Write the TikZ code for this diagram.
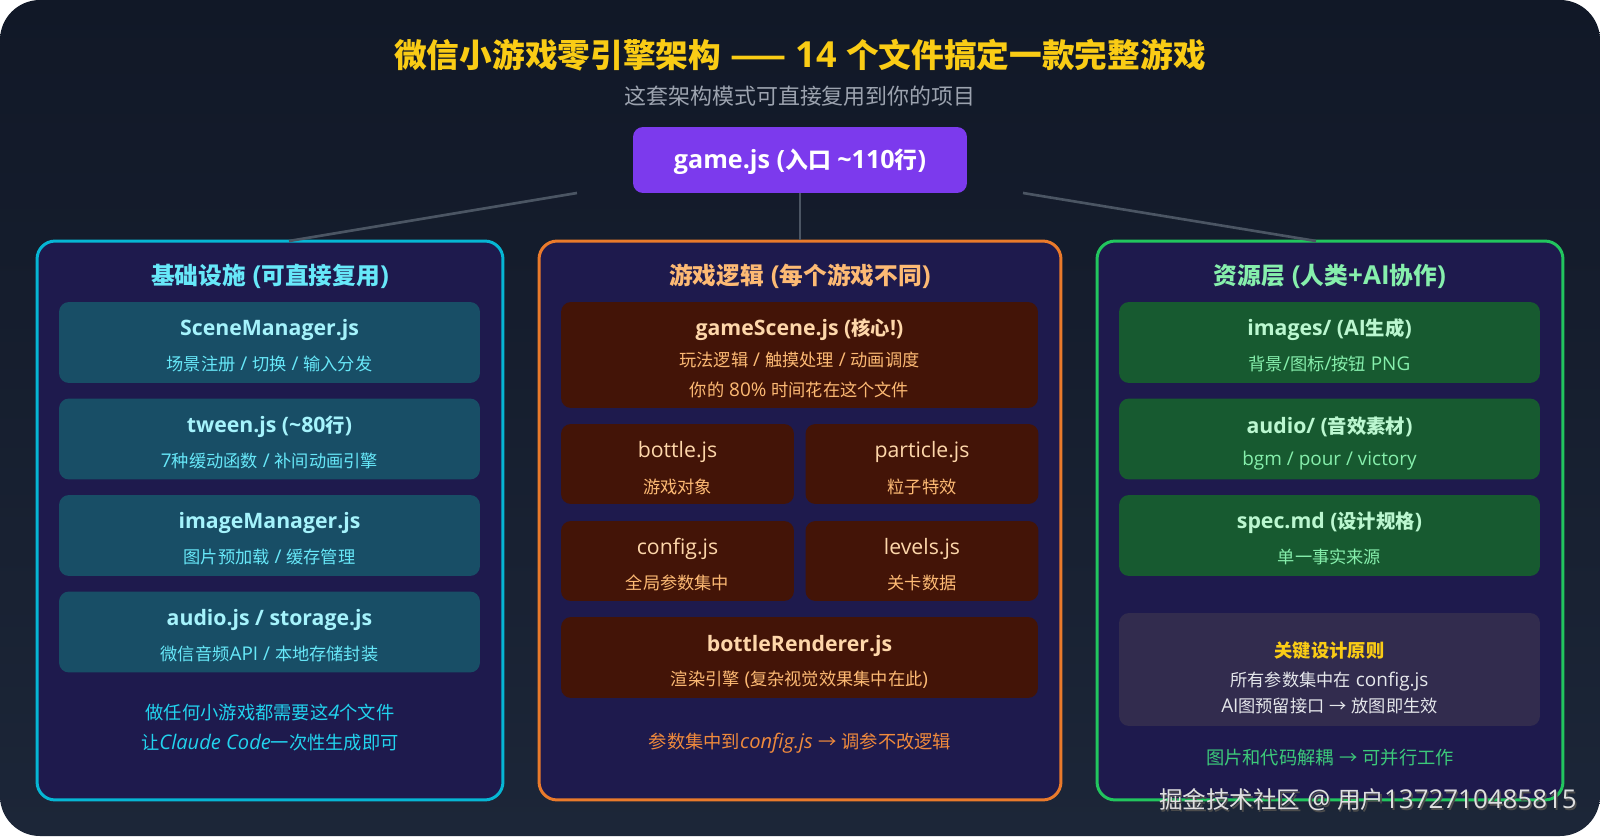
\documentclass[tikz,border=0pt]{standalone}
\usepackage{fontspec}
\setmainfont{Open Sans}[Scale=1.1]
\newfontfamily\cjkfont{Noto Sans CJK SC}[AutoFakeSlant=0.2]
\usetikzlibrary{positioning}

% 中文字符自动切换字体
\XeTeXinterchartokenstate=1
\newXeTeXintercharclass\CJKcls
\newcount\cjkc
\cjkc="4E00
\loop\ifnum\cjkc<"A000 \XeTeXcharclass\cjkc=\CJKcls \advance\cjkc by 1 \repeat
\XeTeXcharclass"2014=\CJKcls
\XeTeXcharclass"2192=\CJKcls
\XeTeXinterchartoks 0 \CJKcls = {\begingroup\cjkfont}
\XeTeXinterchartoks 4095 \CJKcls = {\begingroup\cjkfont}
\XeTeXinterchartoks \CJKcls 0 = {\endgroup}
\XeTeXinterchartoks \CJKcls 4095 = {\endgroup}

\definecolor{bgtop}{HTML}{111827}
\definecolor{bgbot}{HTML}{1C2638}
\definecolor{panelfill}{HTML}{1E1A4D}
\definecolor{titleY}{HTML}{FACC15}
\definecolor{subG}{HTML}{9CA3AF}
\definecolor{gamePurple}{HTML}{7C3AED}
\definecolor{linkG}{HTML}{4B5563}
% 左栏
\definecolor{cyanB}{HTML}{06B6D4}
\definecolor{cyanF}{HTML}{184E66}
\definecolor{cyanT}{HTML}{A5F3FC}
\definecolor{cyanS}{HTML}{67E8F9}
\definecolor{cyanN}{HTML}{22D3EE}
% 中栏
\definecolor{orgB}{HTML}{EA7A2B}
\definecolor{orgF}{HTML}{431407}
\definecolor{orgT}{HTML}{FED7AA}
\definecolor{orgS}{HTML}{FDBA74}
\definecolor{orgN}{HTML}{F08A3C}
% 右栏
\definecolor{grnB}{HTML}{22C55E}
\definecolor{grnF}{HTML}{175A30}
\definecolor{grnT}{HTML}{BBF7D0}
\definecolor{grnS}{HTML}{86EFAC}
\definecolor{grnN}{HTML}{3CC97A}
\definecolor{keyF}{HTML}{322C4E}
\definecolor{keyT}{HTML}{E5E7EB}

\tikzset{
  panel/.style={draw, line width=1.7pt, fill=panelfill, rounded corners=0.36cm,
    minimum width=9.32cm, minimum height=11.18cm, inner sep=0},
  subbox/.style={rounded corners=0.2cm, minimum width=8.42cm, minimum height=1.62cm, inner sep=0},
  halfbox/.style={rounded corners=0.2cm, minimum width=4.66cm, minimum height=1.6cm, inner sep=0},
  ptitle/.style={font=\bfseries\fontsize{13.5}{16}\selectfont, inner sep=0},
  btitle/.style={font=\bfseries\fontsize{11}{13}\selectfont, inner sep=0},
  bname/.style={font=\fontsize{11}{13}\selectfont, inner sep=0},
  bsub/.style={font=\fontsize{9.8}{12}\selectfont, inner sep=0},
  note/.style={font=\fontsize{10.4}{12}\selectfont, inner sep=0},
  link/.style={linkG, line width=1.5pt}
}

\begin{document}
\begin{tikzpicture}[x=0.02cm, y=-0.02cm]
    \useasboundingbox (0,0) rectangle (1600,838);
    \fill[white] (0,0) rectangle (1600,838);
    % 背景
    \shade[top color=bgtop, bottom color=bgbot, rounded corners=0.8cm] (0,0) rectangle (1600,836);

    % 标题
    \node[font=\bfseries\fontsize{18.6}{22}\selectfont, text=titleY, inner sep=0] (title) at (800,55)
        {微信小游戏零引擎架构 —— 14 个文件搞定一款完整游戏};
    \node[font=\fontsize{12.5}{15}\selectfont, text=subG, inner sep=0] (subtitle) at (800,96)
        {这套架构模式可直接复用到你的项目};

    % 入口
    \node[fill=gamePurple, rounded corners=0.2cm, minimum width=6.68cm, minimum height=1.32cm,
        text height=1.12em, text depth=0.25em,
        text=white, font=\bfseries\fontsize{13}{16}\selectfont] (game) at (800,160) {game.js (入口 \textasciitilde110行)};

    % 三个分栏
    \node[panel, draw=cyanB] (infra) at (270,520.5) {};
    \node[panel, draw=orgB, minimum width=10.44cm] (logic) at (800,520.5) {};
    \node[panel, draw=grnB] (assets) at (1330,520.5) {};

    % 连线
    \coordinate (gl) at (577,193);
    \coordinate (gr) at (1023,193);
    \coordinate (il) at (289,241);
    \coordinate (ar) at (1316,241);
    \draw[link] (gl) -- (il);
    \draw[link] (game.south) -- (logic.north);
    \draw[link] (gr) -- (ar);

    % ---- 基础设施 ----
    \node[ptitle, text=cyanS] (infraT) at (270,276) {基础设施 (可直接复用)};
    \node[subbox, fill=cyanF] (scene) at (269.5,342.5) {};
    \node[btitle, text=cyanT] (sceneT) at (269.5,330) {SceneManager.js};
    \node[bsub, text=cyanS] (sceneS) at (269.5,364) {场景注册 / 切换 / 输入分发};
    \node[subbox, fill=cyanF] (tween) at (269.5,439) {};
    \node[btitle, text=cyanT] (tweenT) at (269.5,426.5) {tween.js (\textasciitilde80行)};
    \node[bsub, text=cyanS] (tweenS) at (269.5,460.5) {7种缓动函数 / 补间动画引擎};
    \node[subbox, fill=cyanF] (imgmgr) at (269.5,535.5) {};
    \node[btitle, text=cyanT] (imgmgrT) at (269.5,523) {imageManager.js};
    \node[bsub, text=cyanS] (imgmgrS) at (269.5,557) {图片预加载 / 缓存管理};
    \node[subbox, fill=cyanF] (audio) at (269.5,632) {};
    \node[btitle, text=cyanT] (audioT) at (269.5,619.5) {audio.js / storage.js};
    \node[bsub, text=cyanS] (audioS) at (269.5,653.5) {微信音频API / 本地存储封装};
    \node[note, text=cyanN] (infraN1) at (270,713) {做任何小游戏都需要这\textit{4}个文件};
    \node[note, text=cyanN] (infraN2) at (270,743) {让\textit{Claude Code}一次性生成即可};

    % ---- 游戏逻辑 ----
    \node[ptitle, text=orgS] (logicT) at (800,276) {游戏逻辑 (每个游戏不同)};
    \node[subbox, fill=orgF, minimum width=9.54cm, minimum height=2.12cm] (gscene) at (799.5,355) {};
    \node[btitle, text=orgT] (gsceneT) at (799.5,330) {gameScene.js (核心!)};
    \node[bsub, text=orgS] (gsceneS1) at (799.5,360) {玩法逻辑 / 触摸处理 / 动画调度};
    \node[bsub, text=orgS] (gsceneS2) at (799.5,390) {你的 80\% 时间花在这个文件};
    \node[halfbox, fill=orgF] (bottle) at (677.5,464) {};
    \node[bname, text=orgT] (bottleT) at (677.5,452) {bottle.js};
    \node[bsub, text=orgS] (bottleS) at (677.5,487) {游戏对象};
    \node[halfbox, fill=orgF] (particle) at (922,464) {};
    \node[bname, text=orgT] (particleT) at (922,452) {particle.js};
    \node[bsub, text=orgS] (particleS) at (922,487) {粒子特效};
    \node[halfbox, fill=orgF] (config) at (677.5,561) {};
    \node[bname, text=orgT] (configT) at (677.5,549) {config.js};
    \node[bsub, text=orgS] (configS) at (677.5,583) {全局参数集中};
    \node[halfbox, fill=orgF] (levels) at (922,561) {};
    \node[bname, text=orgT] (levelsT) at (922,549) {levels.js};
    \node[bsub, text=orgS] (levelsS) at (922,583) {关卡数据};
    \node[subbox, fill=orgF, minimum width=9.54cm] (render) at (799.5,657.5) {};
    \node[btitle, text=orgT] (renderT) at (799.5,646) {bottleRenderer.js};
    \node[bsub, text=orgS] (renderS) at (799.5,680) {渲染引擎 (复杂视觉效果集中在此)};
    \node[note, text=orgN] (logicN) at (800,743) {参数集中到\textit{config.js} → 调参不改逻辑};

    % ---- 资源层 ----
    \node[ptitle, text=grnS] (assetsT) at (1330,276) {资源层 (人类+AI协作)};
    \node[subbox, fill=grnF] (images) at (1329.5,342.5) {};
    \node[btitle, text=grnT] (imagesT) at (1329.5,330) {images/ (AI生成)};
    \node[bsub, text=grnS] (imagesS) at (1329.5,364) {背景/图标/按钮 PNG};
    \node[subbox, fill=grnF] (sound) at (1329.5,439) {};
    \node[btitle, text=grnT] (soundT) at (1329.5,426.5) {audio/ (音效素材)};
    \node[bsub, text=grnS] (soundS) at (1329.5,460.5) {bgm / pour / victory};
    \node[subbox, fill=grnF] (spec) at (1329.5,535.5) {};
    \node[btitle, text=grnT] (specT) at (1329.5,523) {spec.md (设计规格)};
    \node[bsub, text=grnS] (specS) at (1329.5,557) {单一事实来源};
    \node[subbox, fill=keyF, minimum height=2.26cm] (key) at (1329.5,669.5) {};
    \node[font=\bfseries\fontsize{10.4}{12}\selectfont, text=titleY, inner sep=0] (keyT) at (1329.5,651) {关键设计原则};
    \node[bsub, text=keyT] (keyS1) at (1329.5,681) {所有参数集中在 config.js};
    \node[bsub, text=keyT] (keyS2) at (1329.5,706) {AI图预留接口 → 放图即生效};
    \node[note, text=grnN] (assetsN) at (1330,758) {图片和代码解耦 → 可并行工作};

    % 水印
    \node[font=\fontsize{13.4}{16}\selectfont, text=black!70, inner sep=0, anchor=east] (markS) at (1578.5,801.5) {掘金技术社区 @ 用户1372710485815};
    \node[font=\fontsize{13.4}{16}\selectfont, text=white!88!black, inner sep=0, anchor=east] (mark) at (1577,800) {掘金技术社区 @ 用户1372710485815};
\end{tikzpicture}
\end{document}
